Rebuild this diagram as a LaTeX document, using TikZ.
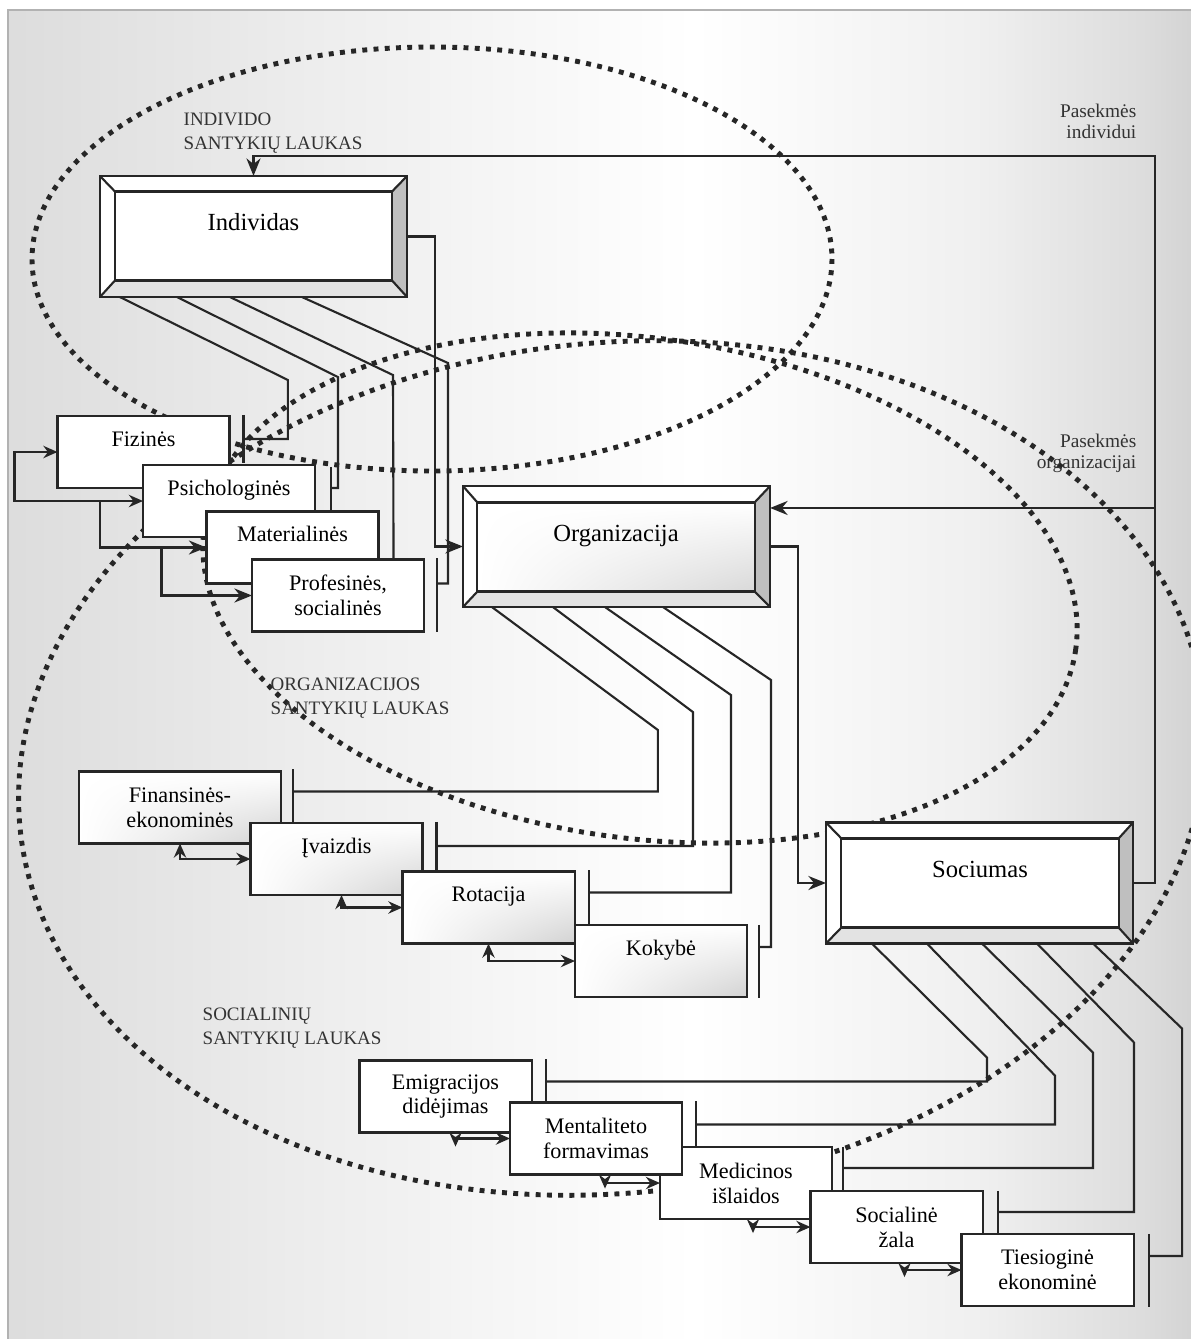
\documentclass[tikz,border=0pt]{standalone}
\usepackage{fontspec}
\setmainfont{Liberation Serif}
\usetikzlibrary{arrows.meta,positioning,calc,shadings}

\newcommand{\smallboxfont}{\fontsize{6.3pt}{7.1pt}\selectfont}
\newcommand{\mainboxfont}{\fontsize{7pt}{8pt}\selectfont}
\newcommand{\fieldfont}{\fontsize{5.4pt}{6.8pt}\selectfont}
\newcommand{\sidefont}{\fontsize{5.5pt}{6.2pt}\selectfont}

\pgfdeclarehorizontalshading{bggrad}{100bp}{color(0bp)=(gray!27); color(25bp)=(gray!27); color(38bp)=(gray!14); color(54bp)=(white); color(66bp)=(gray!12); color(73bp)=(gray!27); color(75bp)=(gray!34); color(100bp)=(gray!34)}

% bevel of a main box: outer node #1, inner node #1-in
\newcommand{\bevel}[1]{%
  \fill[white] (#1.north west) -- (#1.north east) -- (#1-in.north east) -- (#1-in.north west) -- cycle;
  \fill[white] (#1.north west) -- (#1-in.north west) -- (#1-in.south west) -- (#1.south west) -- cycle;
  \fill[gray!22] (#1.south west) -- (#1-in.south west) -- (#1-in.south east) -- (#1.south east) -- cycle;
  \fill[gray!50] (#1.north east) -- (#1.south east) -- (#1-in.south east) -- (#1-in.north east) -- cycle;
  \draw[boxline] (#1.north west) rectangle (#1.south east);
  \draw[boxline] (#1-in.north west) rectangle (#1-in.south east);
  \draw[boxline] (#1.north west) -- (#1-in.north west) (#1.north east) -- (#1-in.north east)
    (#1.south west) -- (#1-in.south west) (#1.south east) -- (#1-in.south east);
}

\begin{document}
\begin{tikzpicture}[x=0.01cm, y=-0.01cm,
  boxline/.style={line width=0.6pt, draw=black!85},
  conn/.style={line width=0.6pt, black!85},
  arrow/.style={conn, -{Stealth[length=5pt,width=4pt]}},
  twoway/.style={conn, {Stealth[length=4pt,width=3.5pt]}-{Stealth[length=4pt,width=3.5pt]}},
  backway/.style={conn, {Stealth[length=4pt,width=3.5pt,reversed]}-{Stealth[length=4pt,width=3.5pt]}},
  field/.style={line width=1.4pt, dash pattern=on 1.4pt off 1.8pt, black!85},
  smallbox/.style={rectangle, draw=black!85, fill=white, line width=0.6pt, minimum width=1.72cm,
    minimum height=0.72cm, inner sep=0pt, outer sep=0pt, align=center, font=\smallboxfont},
  shadebox/.style={smallbox, upper left=white, upper right=white, lower left=white, lower right=gray!35},
  hightext/.style={text height=4.5pt, text depth=7.7pt},
  bigout/.style={rectangle, minimum width=3.07cm, minimum height=1.21cm, inner sep=0pt, outer sep=0pt},
  bigin/.style={rectangle, fill=white, minimum width=2.77cm, minimum height=0.89cm, inner sep=0pt,
    outer sep=0pt, font=\mainboxfont, text height=5pt, text depth=8.2pt},
  fieldlabel/.style={font=\fieldfont, text=black!80, align=left, inner sep=0pt, anchor=north west},
  sidenote/.style={font=\sidefont, text=black!80, align=right, inner sep=0pt, anchor=north east},
]
\useasboundingbox (0,0) rectangle (1191,1339);

% background
\fill[white] (0,0) rectangle (1191,1339);
\fill[shading=bggrad] (8,10) rectangle (1191,1339);
\draw[gray!60, line width=0.5pt] (8,1339) -- (8,10) -- (1191,10);

% relation fields
\draw[field] (432,259) ellipse [x radius=400, y radius=212];
\draw[field, rotate around={-8:(640,588)}] (640,588) ellipse [x radius=440, y radius=250];
\draw[field, rotate around={6:(612,768)}] (612,768) ellipse [x radius=595, y radius=425];

\node[fieldlabel] (indfield) at (183,112) {INDIVIDO\\SANTYKIŲ LAUKAS};
\node[fieldlabel] (orgfield) at (270,677) {ORGANIZACIJOS\\SANTYKIŲ LAUKAS};
\node[fieldlabel] (socfield) at (202,1007) {SOCIALINIŲ\\SANTYKIŲ LAUKAS};
\node[sidenote] (indnote) at (1137,103) {Pasekmės\\individui};
\node[sidenote] (orgnote) at (1137,433) {Pasekmės\\organizacijai};

% main boxes
\node[bigout] (indiv) at (253.5,236.5) {};
\node[bigin] (indiv-in) at (253.5,236) {Individas};
\bevel{indiv}
\node[bigout] (org) at (616.5,546.5) {};
\node[bigin, upper left=white, upper right=white, lower left=white, lower right=gray!30] (org-in) at (616,547) {Organizacija};
\bevel{org}
\node[bigout] (soc) at (979.5,883) {};
\node[bigin] (soc-in) at (980,883) {Sociumas};
\bevel{soc}

% individual consequences
\node[smallbox, hightext] (fiz) at (143.5,452) {Fizinės};
\node[smallbox, hightext] (psi) at (229,501) {Psichologinės};
\node[smallbox, hightext] (mat) at (292.5,547.5) {Materialinės};
\node[smallbox] (prof) at (338,595.5) {Profesinės,\\socialinės};

% organizational consequences
\node[shadebox, minimum width=2.02cm] (fin) at (180,807.5) {Finansinės-\\ekonominės};
\node[shadebox, hightext] (iva) at (336.5,859) {Įvaizdis};
\node[shadebox, hightext] (rot) at (488.5,907.5) {Rotacija};
\node[shadebox, hightext] (kok) at (661,961) {Kokybė};

% social consequences
\node[smallbox] (emi) at (445.5,1096.5) {Emigracijos\\didėjimas};
\node[smallbox] (med) at (746,1183) {Medicinos\\išlaidos};
\node[smallbox] (men) at (596,1138.5) {Mentaliteto\\formavimas};
\node[smallbox] (sol) at (896.5,1227) {Socialinė\\žala};
\node[smallbox] (tie) at (1047.5,1270) {Tiesioginė\\ekonominė};

% main flow
\draw[arrow] (indiv.east) -- ++(28,0) |- (org.west);
\draw[arrow] (org.east) -- ++(28,0) |- (soc.west);
\draw[arrow] (soc.east) -- ++(22,0) coordinate (back) -- ++(0,-727) -| (indiv.north);
\coordinate (orgin) at ($(org.north east)+(0,22)$);
\draw[arrow] (back |- orgin) -- (orgin);

% individas -> consequences
\draw[conn] ([xshift=0.2cm]indiv.south west) -- ++(168,83) |- ($(fiz.north east)+(14,23)$);
\draw[conn] ([xshift=0.77cm]indiv.south west) -- ++(161,80) |- ($(psi.north east)+(16,23)$);
\draw[conn] ([xshift=1.3cm]indiv.south west) -- ++(163,78) -- ($(mat.north east)+(15,47)$);
\draw[conn] ([xshift=2.02cm]indiv.south west) -- ++(146,66) |- ($(prof.north east)+(13,24)$);
\draw[conn] ($(fiz.north east)+(14,-1)$) -- ++(0,48);
\draw[conn] ($(psi.north east)+(16,2)$) -- ++(0,44);
\draw[conn] ($(prof.north east)+(13,-1)$) -- ++(0,74);

% organizacija -> consequences
\draw[conn] ([xshift=0.29cm]org.south west) -- ++(166,123) |- ($(fin.north east)+(12,20)$);
\draw[conn] ([xshift=0.9cm]org.south west) -- ++(140,105) |- ($(iva.north east)+(14,23)$);
\draw[conn] ([xshift=1.42cm]org.south west) -- ++(126,88) |- ($(rot.north east)+(14,21)$);
\draw[conn] ([xshift=2cm]org.south west) -- ++(108,73) |- ($(kok.north east)+(12,22)$);
\draw[conn] ($(fin.north east)+(12,-2)$) -- ++(0,53);
\draw[conn] ($(iva.north east)+(14,-1)$) -- ++(0,50);
\draw[conn] ($(rot.north east)+(14,-1)$) -- ++(0,54);
\draw[conn] ($(kok.north east)+(12,0)$) -- ++(0,73);

% sociumas -> consequences
\draw[conn] ([xshift=0.46cm]soc.south west) -- ++(115,114) |- ($(emi.north east)+(14,21)$);
\draw[conn] ([xshift=1.01cm]soc.south west) -- ++(128,132) |- ($(men.north east)+(14,22)$);
\draw[conn] ([xshift=1.56cm]soc.south west) -- ++(111,109) |- ($(med.north east)+(11,21)$);
\draw[conn] ([xshift=2.11cm]soc.south west) -- ++(97,99) |- ($(sol.north east)+(15,21)$);
\draw[conn] ([xshift=2.67cm]soc.south west) -- ++(89,85) |- ($(tie.north east)+(15,22)$);
\draw[conn] ($(emi.north east)+(14,-1)$) -- ++(0,43);
\draw[conn] ($(men.north east)+(14,-1)$) -- ++(0,45);
\draw[conn] ($(med.north east)+(11,0)$) -- ++(0,44);
\draw[conn] ($(sol.north east)+(15,0)$) -- ++(0,43);
\draw[conn] ($(tie.north east)+(15,0)$) -- ++(0,73);

% links between consequences
\draw[twoway] (fiz.west) -- ++(-43,0) |- (psi.west);
\draw[arrow] ($(psi.west)+(-43,0)$) |- (mat.west);
\draw[arrow] ($(mat.west)+(-45,0)$) |- (prof.west);

\draw[twoway] (fin.south) |- (iva.west);
\draw[twoway] ([xshift=0.05cm]iva.south) |- (rot.west);
\draw[twoway] (rot.south) |- (kok.west);

\draw[backway] ([xshift=0.1cm]emi.south) |- (men.west);
\draw[backway] ([xshift=0.09cm]men.south) |- (med.west);
\draw[backway] ([xshift=0.07cm]med.south) |- (sol.west);
\draw[backway] ([xshift=0.08cm]sol.south) |- (tie.west);
\end{tikzpicture}
\end{document}
